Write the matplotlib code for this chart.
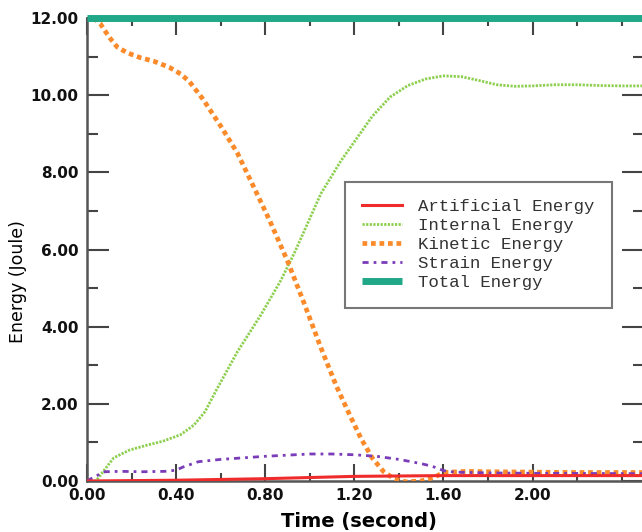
import matplotlib
matplotlib.use("Agg")
import matplotlib.pyplot as plt
from matplotlib.ticker import MultipleLocator, FormatStrFormatter

# --- data ---
t_artificial = [0.0, 0.2, 0.4, 0.6, 0.8, 1.0, 1.2, 1.4, 1.6, 2.0, 2.5]
e_artificial = [0.0, 0.01, 0.02, 0.04, 0.06, 0.09, 0.12, 0.13, 0.14, 0.14, 0.14]

t_internal = [0.0, 0.04, 0.08, 0.12, 0.19, 0.27, 0.34, 0.42, 0.48, 0.53, 0.58, 0.675,
              0.78, 0.87, 0.93, 1.05, 1.14, 1.28, 1.36, 1.44, 1.52, 1.6, 1.68, 1.76,
              1.84, 1.92, 2.0, 2.1, 2.2, 2.3, 2.4, 2.5]
e_internal = [0.0, 0.0, 0.3, 0.6, 0.8, 0.93, 1.03, 1.2, 1.45, 1.8, 2.35, 3.35,
              4.3, 5.2, 5.9, 7.45, 8.3, 9.45, 9.95, 10.25, 10.42, 10.5, 10.48, 10.38,
              10.27, 10.23, 10.24, 10.27, 10.27, 10.25, 10.24, 10.24]

t_kinetic = [0.03, 0.06, 0.1, 0.135, 0.18, 0.24, 0.3, 0.37, 0.42, 0.46, 0.52, 0.6,
             0.675, 0.75, 0.82, 0.9, 0.975, 1.05, 1.12, 1.18, 1.23, 1.28, 1.33, 1.38,
             1.43, 1.5, 1.56, 1.6, 1.7, 1.8, 2.0, 2.2, 2.5]
e_kinetic = [12.0, 11.85, 11.5, 11.25, 11.1, 10.97, 10.88, 10.72, 10.55, 10.35, 9.9, 9.2,
             8.5, 7.6, 6.75, 5.7, 4.6, 3.45, 2.45, 1.7, 1.1, 0.6, 0.25, 0.05,
             -0.02, 0.0, 0.1, 0.22, 0.25, 0.24, 0.23, 0.22, 0.22]

t_strain = [0.0, 0.03, 0.08, 0.15, 0.25, 0.35, 0.4, 0.43, 0.46, 0.5, 0.6, 0.8,
            1.0, 1.1, 1.2, 1.3, 1.4, 1.5, 1.55, 1.6, 1.65, 1.8, 2.0, 2.5]
e_strain = [0.0, 0.1, 0.24, 0.25, 0.24, 0.25, 0.28, 0.36, 0.42, 0.5, 0.56, 0.64,
            0.7, 0.7, 0.68, 0.64, 0.56, 0.45, 0.38, 0.27, 0.23, 0.21, 0.2, 0.19]

t_total = [0.0, 2.5]
e_total = [12.0, 12.0]

x_ticks = [0.0, 0.4, 0.8, 1.2, 1.6, 2.0]
y_ticks = [0.0, 2.0, 4.0, 6.0, 8.0, 10.0, 12.0]


def plot_energy():
    plt.rcParams['font.family'] = ['DejaVu Sans']

    fig = plt.figure(figsize=(6.42, 5.32), dpi=100)
    # axes run slightly off the right edge like in the cropped original
    ax = fig.add_axes([87 / 642, 51 / 532, 557 / 642, 463 / 532])

    # curves
    ax.plot(t_artificial, e_artificial, color='#ef2b2b', lw=2.2,
            label='Artificial Energy', zorder=4)
    ax.plot(t_internal, e_internal, color='#8dcf4e', lw=2.0,
            linestyle=(0, (0.8, 0.5)), label='Internal Energy', zorder=3)
    ax.plot(t_kinetic, e_kinetic, color='#fb8a2a', lw=3.4,
            linestyle=(0, (1.0, 0.8)), label='Kinetic Energy', zorder=3)
    ax.plot(t_strain, e_strain, color='#7a3cb8', lw=2.0,
            linestyle=(0, (2.2, 1.8, 1.0, 1.8)), label='Strain Energy', zorder=3)
    ax.plot(t_total, e_total, color='#20a888', lw=5.0,
            label='Total Energy', zorder=5, clip_on=False, solid_capstyle='butt')

    ax.set_xlim(0, 2.5)
    ax.set_ylim(0, 12)

    # ticks: inward on all four sides
    ax.set_xticks(x_ticks)
    ax.set_yticks(y_ticks)
    ax.xaxis.set_minor_locator(MultipleLocator(0.2))
    ax.yaxis.set_minor_locator(MultipleLocator(1.0))
    ax.xaxis.set_major_formatter(FormatStrFormatter('%.2f'))
    ax.yaxis.set_major_formatter(FormatStrFormatter('%.2f'))
    ax.tick_params(axis='x', which='major', direction='in', length=12, width=1.5,
                   top=True, color='#444444', pad=5)
    ax.tick_params(axis='x', which='minor', direction='in', length=6, width=1.5,
                   top=True, color='#444444')
    ax.tick_params(axis='y', which='major', direction='in', length=16, width=1.5,
                   right=True, color='#444444', pad=6)
    ax.tick_params(axis='y', which='minor', direction='in', length=8, width=1.5,
                   right=True, color='#444444')
    for lab in ax.get_xticklabels() + ax.get_yticklabels():
        lab.set_fontweight('bold')
        lab.set_fontsize(11)
        lab.set_color('#111111')

    for sp in ax.spines.values():
        sp.set_color('#555555')
        sp.set_linewidth(1.8)

    ax.set_xlabel('Time (second)', fontsize=14, fontweight='bold')
    ax.xaxis.set_label_coords(0.488, -0.066)
    ax.set_ylabel('Energy (Joule)', fontsize=12.5)
    ax.yaxis.set_label_coords(-0.108, 0.43)

    # legend in monospace like the original solver output
    leg = ax.legend(loc='upper left', bbox_to_anchor=(0.463, 0.646), borderaxespad=0,
                    prop={'family': 'Liberation Mono', 'size': 12.5},
                    handlelength=2.3, handletextpad=0.9, labelspacing=0.22,
                    borderpad=1.0, fancybox=False, framealpha=1.0)
    leg.get_frame().set_edgecolor('#777777')
    leg.get_frame().set_linewidth(1.5)
    for txt in leg.get_texts():
        txt.set_color('#333333')

    fig.savefig('out.png', dpi=100)
    plt.close(fig)


if __name__ == "__main__":
    plot_energy()
